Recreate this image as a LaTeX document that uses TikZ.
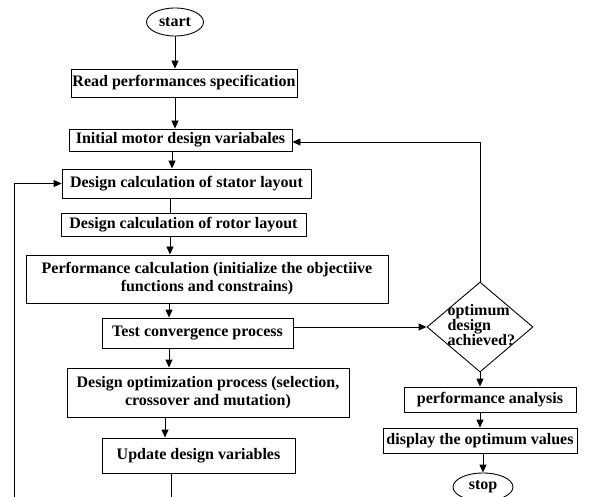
\documentclass[tikz,border=0pt]{standalone}
\usepackage{fontspec}
\setmainfont{Liberation Serif}
\usetikzlibrary{arrows.meta,shapes.geometric}
\begin{document}
\begin{tikzpicture}[x=1pt,y=-1pt,
  txt/.style={font=\bfseries\fontsize{16}{18}\selectfont},
  box/.style={draw,line width=0.9pt,inner sep=0pt,txt,align=center},
  oval/.style={draw,ellipse,line width=0.9pt,inner sep=0pt,txt},
  arr/.style={-{Triangle[length=8pt,width=7pt]},line width=0.9pt},
  ln/.style={line width=0.9pt}]
\useasboundingbox (0,0) rectangle (592,497);
\clip (0,0) rectangle (592,497);
\fill[white] (0,0) rectangle (592,497);
\node[oval,minimum width=57,minimum height=28] (start) at (175,22) {start};
\node[box,minimum width=226,minimum height=28] (read) at (184,83) {Read performances specification};
\node[box,minimum width=223,minimum height=22] (init) at (180.5,140) {Initial motor design variabales};
\node[box,minimum width=249,minimum height=29] (stator) at (186.5,183.5) {Design calculation of stator layout};
\node[box,minimum width=245,minimum height=23] (rotor) at (183.5,224.5) {Design calculation of rotor layout};
\node[box,minimum width=362,minimum height=48] (perf) at (207,279) {Performance calculation (initialize the objectiive\\functions and constrains)};
\node[box,minimum width=191,minimum height=30] (test) at (197.5,333) {Test convergence process};
\node[box,minimum width=282,minimum height=49] (dopt) at (208,392.5) {Design optimization process (selection,\\crossover and mutation)};
\node[box,minimum width=193,minimum height=35] (update) at (198.5,455.5) {Update design variables};
\node[draw,diamond,line width=0.9pt,inner sep=0pt,minimum width=106,minimum height=90] (dec) at (480,327) {};
\node[txt,align=left,anchor=west] (dectxt) at (444,325) {optimum\\[-3pt]design\\[-3pt]achieved?};
\node[box,minimum width=172,minimum height=25] (panal) at (490,399.5) {performance analysis};
\node[box,minimum width=194,minimum height=25] (disp) at (480,440.5) {display the optimum values};
\node[oval,minimum width=60,minimum height=28] (stop) at (483,487) {stop};
\coordinate (loopb) at (14,510);

\draw[arr] (start.south) -- (start.south |- read.north);
\draw[arr] (read.south -| start) -- (init.north -| start);
\draw[arr] ([xshift=-8.5pt]init.south) -- ([xshift=-8.5pt]init.south |- stator.north);
\draw[ln] ([xshift=-16.5pt]stator.south) -- ([xshift=-16.5pt]stator.south |- rotor.north);
\draw[arr] ([xshift=-13.5pt]rotor.south) -- ([xshift=-13.5pt]rotor.south |- perf.north);
\draw[arr] ([xshift=-38pt]perf.south) -- ([xshift=-38pt]perf.south |- test.north);
\draw[arr] ([xshift=-28.5pt]test.south) -- ([xshift=-28.5pt]test.south |- dopt.north);
\draw[arr] ([xshift=-43pt]dopt.south) -- ([xshift=-43pt]dopt.south |- update.north);
\draw[arr] ([xshift=-27.5pt]update.south) -- ([xshift=-27.5pt]update.south |- loopb) -- (loopb) |- (stator.west);
\draw[arr] (dec.west -| test.east) -- (dec.west);
\draw[arr] (dec.north) |- ([yshift=-2pt]init.east);
\draw[arr] (dec.south) -- (dec.south |- panal.north);
\draw[arr] (panal.south -| disp) -- (disp.north);
\draw[arr] (disp.south -| stop) -- (stop.north);
\end{tikzpicture}
\end{document}
